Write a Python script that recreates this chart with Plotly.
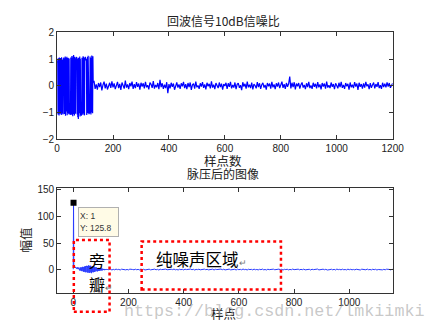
import plotly.graph_objects as go

# ---------------- data ----------------
# Top: echo signal (SNR 10 dB) - chirp part, samples 0..129
top_chirp_x = list(range(0, 130))
top_chirp_y = [
    0.82, -1.02, 0.95, -1.08, 1.03, -0.93, 0.98, -1.12, 1.06, -0.97,
    0.91, -1.05, 1.04, -0.99, 0.96, -1.1, 1.07, -0.94, 1.0, -1.04,
    0.97, -1.08,
    1.02, 0.94, 1.05, 0.97,
    -1.06, 1.01, -0.95, 1.09, -1.13, 0.93, -1.0, 1.05, -0.97, 1.08,
    -1.11, 0.96, -1.03, 1.04, -0.92, 0.99, -1.07, 1.02, -0.98,
    -1.04, -0.96, -1.1, -0.99,
    1.06, -1.02, 0.94, -1.09, 1.11, -0.97, 1.03, -1.14, 0.98, -1.0,
    1.15, -1.06, 0.95, -1.12, 1.08, -0.99, 1.02, -1.05, 0.97,
    1.04, 0.99, 1.07, 0.93,
    -1.08, 1.02, -1.18, 0.96, -1.25, 1.05, -1.1, 0.98, -1.03, 1.09,
    -1.15, 1.01, -0.97,
    -1.06, -0.98, -1.12, -1.02,
    1.05, -1.09, 0.96, -1.04, 1.1, -0.95, 1.03, -1.07, 0.99, -1.11, 1.06,
    0.97, 1.08, 1.02, 0.95,
    -1.05, 1.0, -1.1, 0.94, -0.98, 1.07, -1.03, 1.12, -0.96, 1.01,
    -1.07, -0.99, -1.04, -0.97,
    1.09, -1.02, 0.95, -1.08, 1.04, -1.0, 1.13, -0.97, 1.06, -1.03, 1.1, 0.12,
]
# Top: noise-only part, every 4th sample from 132 to 1200
top_noise_x = list(range(132, 1201, 4))
top_noise_y = [
    0.18, -0.12, 0.05, -0.15, 0.10, -0.05, 0.12, -0.18, 0.03, 0.15, -0.10, 0.08, -0.14, 0.02, 0.11, -0.08, 0.16, -0.06, 0.09, -0.13,
    0.04, 0.14, -0.09, 0.07, -0.16, 0.12, 0.01, -0.11, 0.19, -0.07, 0.05, -0.13, 0.10, -0.02, 0.15, -0.12, 0.06, -0.09, 0.13, -0.04,
    0.08, -0.15, 0.11, -0.03, 0.09, -0.10, 0.14, -0.06, 0.02, -0.14, 0.12, 0.05, -0.08, 0.17, -0.11, 0.03, -0.06, 0.10, -0.13, 0.22,
    -0.05, 0.09, -0.12, 0.04, -0.09, 0.13, -0.28, 0.06, -0.10, 0.11, -0.04, 0.08, -0.15, 0.02, 0.12, -0.07, 0.05, -0.12, 0.09, -0.02,
    0.14, -0.09, 0.06, -0.13, 0.10, -0.05, 0.12, -0.16, 0.03, 0.08, -0.11, 0.15, -0.06, 0.01, -0.12, 0.09, -0.03, 0.13, -0.08, 0.05,
    -0.14, 0.11, -0.02, 0.07, -0.10, 0.16, -0.07, 0.04, -0.13, 0.10, 0.02, -0.09, 0.12, -0.05, 0.08, -0.15, 0.06, -0.01, 0.11, -0.12,
    0.09, -0.04, 0.14, -0.10, 0.03, -0.07, 0.12, -0.13, 0.05, 0.10, -0.08, 0.02, -0.17, 0.13, -0.03, 0.07, -0.11, 0.15, -0.06, 0.04,
    -0.09, 0.12, -0.14, 0.06, 0.01, -0.10, 0.13, -0.05, 0.09, -0.12, 0.04, 0.11, -0.07, 0.03, -0.15, 0.10, -0.02, 0.08, -0.11, 0.14,
    -0.06, 0.05, -0.13, 0.09, -0.03, 0.12, -0.09, 0.02, 0.15, -0.08, 0.06, -0.12, 0.10, -0.04, 0.07, 0.34, -0.10, 0.11, -0.05, 0.13,
    -0.14, 0.08, -0.02, 0.10, -0.11, 0.04, 0.12, -0.07, 0.03, -0.13, 0.09, -0.05, 0.14, -0.09, 0.01, -0.12, 0.11, -0.04, 0.07, -0.10,
    0.13, -0.06, 0.05, -0.14, 0.10, -0.03, 0.08, -0.11, 0.15, -0.07, 0.02, -0.09, 0.12, -0.04, 0.06, -0.13, 0.09, 0.01, -0.10, 0.11,
    -0.05, 0.14, -0.08, 0.03, -0.12, 0.10, -0.02, 0.07, -0.15, 0.12, -0.06, 0.04, -0.09, 0.13, -0.03, 0.08, -0.16, 0.11, -0.04, 0.06,
    -0.11, 0.09, -0.07, 0.14, -0.02, 0.05, -0.13, 0.10, -0.08, 0.03, 0.12, -0.10, 0.06, -0.04, 0.13, -0.09, 0.02, -0.12, 0.11, -0.05,
    0.08, -0.06, 0.12, -0.03, 0.10, -0.08, 0.05, 0.09,
]

# Bottom: pulse-compressed output - main lobe + side lobes, samples 0..130
bot_lobe_x = list(range(0, 131))
bot_lobe_y = [
    0.5, 125.8, 5.6, 4.2, 4.9, 3.8, 5.1, 2.9, 4.4, 3.3,
    4.0, 2.2, 3.6, 1.4, 4.1, 2.5, 1.8, 3.9, 0.6, 2.8,
    3.4, -0.8, 2.1, 1.2, -1.9, 3.6, 0.4, -1.2, 4.2, -2.6,
    1.5, 3.8, -3.1, -0.6, 5.1, -2.4, 2.2, -4.0, 4.9, 0.8,
    -3.6, 5.6, -1.9, -4.8, 6.3, 2.1, -5.2, 4.4, -2.9, 7.1,
    -4.6, 1.8, 6.5, -6.1, 3.2, -3.8, 8.0, -5.5, 0.9, 6.8,
    -6.4, 2.7, -3.1, 7.2, -4.9, 4.6, -6.8, 1.3, 5.9, -4.2,
    -1.6, 6.1, -5.3, 3.5, -2.4, 5.2, -4.6, 0.7, 4.1, -3.8,
    2.6, -1.9, 4.4, -3.2, 0.5, 3.6, -2.7, 1.9, -3.4, 2.8,
    0.4, -2.5, 3.1, -1.2, 1.6, -2.2, 2.4, 0.3, -1.9, 2.0,
    -0.6, 1.5, -1.7, 2.1, -0.4, 0.9, -1.5, 1.6, 0.2, -1.1,
    1.3, -0.8, 0.6, 1.1, -1.2, 0.4, 0.9, -0.7, 1.0, -0.3,
    0.5, -0.9, 0.8, 0.2, -0.6, 0.7, -0.2, 0.4, -0.5, 0.6, 0.1,
]
# Bottom: pure-noise region, every 5th sample from 135 to 1160
bot_noise_x = list(range(135, 1161, 5))
bot_noise_y = [
    0.6, -0.8, 0.3, -0.5, 0.9, -0.2, 0.4, -0.9, 0.7, -0.1, 0.5, -0.6, 0.2, -0.7, 0.8, -0.3, 0.1, -0.5, 0.6, -0.4,
    0.3, -0.7, 0.9, -0.2, 0.5, -0.8, 0.1, -0.4, 0.7, -0.6, 0.2, -0.3, 0.8, -0.5, 0.4, -0.9, 0.6, -0.1, 0.3, -0.7,
    0.8, -0.4, 0.2, -0.6, 0.5, -0.2, 0.9, -0.5, 0.1, -0.8, 0.6, -0.3, 0.4, -0.7, 0.7, -0.1, 0.2, -0.6, 0.9, -0.4,
    0.5, -0.9, 0.3, -0.2, 0.6, -0.5, 0.1, -0.7, 0.8, -0.3, 0.4, -0.6, 0.2, -0.4, 0.7, -0.8, 0.5, -0.1, 0.3, -0.5,
    0.9, -0.3, 0.6, -0.7, 0.2, -0.4, 0.8, -0.6, 0.1, -0.2, 0.5, -0.9, 0.7, -0.3, 0.4, -0.5, 1.0, -0.2, 0.3, -0.8,
    0.6, -0.1, 0.4, -0.6, 0.8, -0.4, 0.2, -0.7, 0.5, -0.3, 0.9, -0.5, 0.1, -0.8, 0.6, -0.2, 0.3, -0.6, 0.7, -0.4,
    0.2, -0.5, 0.8, -0.3, 0.5, -0.9, 0.4, -0.1, 0.6, -0.7, 0.3, -0.4, 0.9, -0.2, 0.1, -0.6, 0.7, -0.5, 0.4, -0.3,
    0.8, -0.6, 0.2, -0.4, 0.5, -0.8, 0.6, -0.2, 0.3, -0.5, 0.9, -0.7, 0.1, -0.3, 0.7, -0.4, 0.5, -0.9, 0.2, -0.1,
    0.6, -0.5, 0.4, -0.8, 0.9, -0.2, 0.3, -0.6, 0.7, -0.4, 0.1, -0.7, 0.8, -0.3, 0.5, -0.5, 0.2, -0.6, 0.6, -0.2,
    0.4, -0.8, 0.7, -0.1, 0.3, -0.5, 0.9, -0.4, 0.2, -0.7, 0.6, -0.3, 0.5, -0.9, 0.1, -0.2, 0.8, -0.6, 0.4, -0.5,
    0.7, -0.3, 0.2, -0.6, 0.5, -0.1,
]

top_xticks = [0, 200, 400, 600, 800, 1000, 1200]
top_yticks = [-2, -1, 0, 1, 2]
bot_xticks = [0, 200, 400, 600, 800, 1000]
bot_yticks = [0, 50, 100, 150]

top_title = "回波信号10dB信噪比"
top_xlabel = "样点数"
bot_title = "脉压后的图像"
bot_xlabel = "样点"
bot_ylabel = "幅值"
tip_index = 1
watermark = "https://blog.csdn.net/lmkiimki"

# ---------------- figure ----------------
W, H = 443, 336
def px(x):
    return x / W
def py(y):
    return 1 - y / H

top_x = top_chirp_x + top_noise_x
top_y = top_chirp_y + top_noise_y
bot_x = bot_lobe_x + bot_noise_x
bot_y = bot_lobe_y + bot_noise_y

fig = go.Figure()
fig.add_trace(go.Scatter(x=top_x, y=top_y, mode="lines",
                         line=dict(color="#0000ff", width=1.2),
                         xaxis="x", yaxis="y", hoverinfo="skip"))
fig.add_trace(go.Scatter(x=bot_x, y=bot_y, mode="lines",
                         line=dict(color="#2a3cff", width=1),
                         xaxis="x2", yaxis="y2", hoverinfo="skip"))
fig.add_trace(go.Scatter(x=[bot_x[tip_index]], y=[bot_y[tip_index]], mode="markers",
                         marker=dict(symbol="square", size=6, color="black"),
                         xaxis="x2", yaxis="y2", hoverinfo="skip"))

tickfont = dict(family="Liberation Sans, Arial, sans-serif", size=10, color="#222")
axis_common = dict(showline=True, linecolor="#333", linewidth=1, mirror="ticks",
                   ticks="inside", ticklen=4, tickcolor="#333", showgrid=False,
                   zeroline=False, tickfont=tickfont, fixedrange=True)

cjk = "Noto Sans CJK SC, sans-serif"

fig.update_layout(
    width=W, height=H, margin=dict(l=0, r=0, t=0, b=0),
    paper_bgcolor="white", plot_bgcolor="white", showlegend=False,
    xaxis=dict(domain=[px(56), px(403.3)], range=[0, 1200], tickvals=top_xticks,
               anchor="y", **axis_common),
    yaxis=dict(domain=[py(138), py(27.3)], range=[-2, 2], tickvals=top_yticks,
               anchor="x", **axis_common),
    xaxis2=dict(domain=[px(56), px(403.3)], range=[-58.5, 1157], tickvals=bot_xticks,
                anchor="y2", **axis_common),
    yaxis2=dict(domain=[py(297.7), py(188.3)], range=[-44.3, 154.4], tickvals=bot_yticks,
                anchor="x2", **axis_common),
)

def label(text, x, y, size, xanchor="center", **kw):
    return dict(text=text, x=px(x), y=py(y), xref="paper", yref="paper",
                xanchor=xanchor, yanchor="middle", showarrow=False,
                font=dict(family=kw.pop("family", cjk), size=size,
                          color=kw.pop("color", "#222")), **kw)

annotations = [
    label(top_title, 228, 15, 12),
    label(top_xlabel, 228, 160, 12.5),
    label(bot_title, 228, 174, 12),
    label(bot_xlabel, 228, 319, 12.5),
    label(bot_ylabel, 23, 243, 12.5, textangle=-90),
    # data tip
    dict(text="X: 1<br>Y: 125.8", x=px(78), y=py(208), xref="paper", yref="paper",
         xanchor="left", yanchor="top", align="left", valign="middle",
         width=37, height=26, borderpad=1, borderwidth=1,
         bgcolor="#fffbe6", bordercolor="#b0b0b0", showarrow=False,
         font=dict(family="Liberation Sans, Arial, sans-serif", size=8.5, color="#333")),
    # region labels
    label("旁", 97, 263, 16, color="black"),
    label("瓣<span style='font-size:9px;color:#777'>↵</span>", 87, 288, 16,
          xanchor="left", color="black"),
    label("纯噪声区域<span style='font-size:9px;color:#777'>↵</span>", 156, 262, 16.5,
          xanchor="left", color="black"),
    # watermark
    label(watermark, 280, 317, 16.7, family="Liberation Mono, monospace",
          color="rgba(170,170,170,0.65)"),
]
fig.update_layout(annotations=annotations)

shapes = [
    dict(type="rect", xref="paper", yref="paper",
         x0=px(73.3), x1=px(110.3), y0=py(317), y1=py(242.7),
         line=dict(color="#ff0000", width=2.5, dash="dot"), layer="above"),
    dict(type="rect", xref="paper", yref="paper",
         x0=px(143.5), x1=px(287.7), y0=py(294), y1=py(244.3),
         line=dict(color="#ff0000", width=2.5, dash="dot"), layer="above"),
]
fig.update_layout(shapes=shapes)

fig.write_html("out.html", config={"displayModeBar": False})
